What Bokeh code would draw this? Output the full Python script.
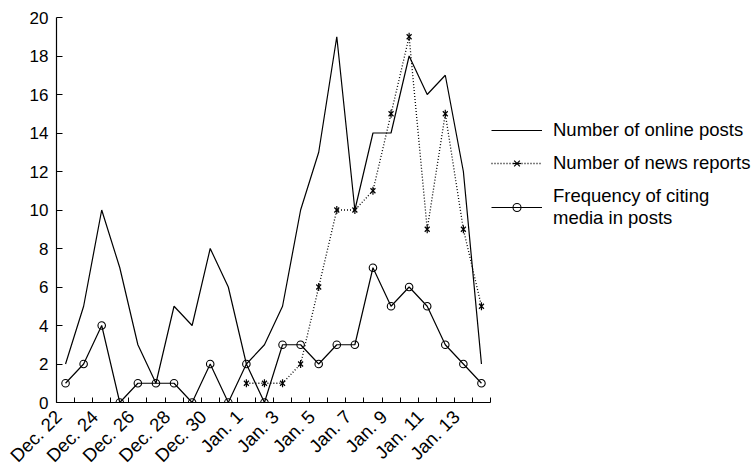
import math
from bokeh.plotting import figure
from bokeh.models import FixedTicker, Legend, LegendItem, LinearAxis
from bokeh.embed import file_html
from bokeh.resources import INLINE

dates = ["Dec. 22", "Dec. 23", "Dec. 24", "Dec. 25", "Dec. 26", "Dec. 27", "Dec. 28", "Dec. 29",
         "Dec. 30", "Dec. 31", "Jan. 1", "Jan. 2", "Jan. 3", "Jan. 4", "Jan. 5", "Jan. 6",
         "Jan. 7", "Jan. 8", "Jan. 9", "Jan. 10", "Jan. 11", "Jan. 12", "Jan. 13", "Jan. 14"]
online_posts = [2, 5, 10, 7, 3, 1, 5, 4, 8, 6, 2, 3, 5, 10, 13, 19, 10, 14, 14, 18, 16, 17, 12, 2]
nan = float("nan")
news_reports = [nan, nan, nan, nan, nan, nan, nan, nan, nan, nan,
                1, 1, 1, 2, 6, 10, 10, 11, 15, 19, 9, 15, 9, 5]
citing_media = [1, 2, 4, 0, 1, 1, 1, 0, 2, 0, 2, 0, 3, 3, 2, 3, 3, 7, 5, 6, 5, 3, 2, 1]
y_ticks = [0, 2, 4, 6, 8, 10, 12, 14, 16, 18, 20]
series_names = ["Number of online posts", "Number of news reports",
                "Frequency of citing\nmedia in posts"]

x = list(range(len(dates)))
FONT = "Liberation Sans"
LABEL_SHIFT = -0.39  # horizontal offset of rotated date labels (category units)

p = figure(frame_width=434, frame_height=385, output_backend="svg", toolbar_location=None,
           x_range=(-0.5, len(dates) - 0.5), y_range=(0, 20),
           min_border_left=56, min_border_top=17, min_border_bottom=0, min_border_right=0)
p.outline_line_color = None
p.xgrid.visible = False
p.ygrid.visible = False
p.background_fill_color = "white"

# x axis line with ticks at category boundaries
xa = p.xaxis[0]
xa.ticker = FixedTicker(ticks=[], minor_ticks=[i - 0.5 for i in range(len(dates) + 1)])
xa.major_tick_in = 0
xa.major_tick_out = 0
xa.minor_tick_in = 5
xa.minor_tick_out = 0
xa.axis_line_color = "black"
xa.axis_line_width = 1.2
xa.minor_tick_line_color = "black"

# date labels, every other day
label_ticks = [round(i + LABEL_SHIFT, 2) for i in x[::2]]
la = LinearAxis(ticker=FixedTicker(ticks=label_ticks),
                major_label_overrides={t: dates[i] for t, i in zip(label_ticks, x[::2])},
                major_label_orientation=math.pi / 4,
                major_label_standoff=11,
                major_tick_in=0, major_tick_out=0, minor_tick_in=0, minor_tick_out=0,
                axis_line_color=None, major_tick_line_color=None, minor_tick_line_color=None,
                major_label_text_font=FONT, major_label_text_font_size="18.5px",
                major_label_text_color="black")
p.add_layout(la, "below")

# y axis
ya = p.yaxis[0]
ya.ticker = FixedTicker(ticks=y_ticks)
ya.major_tick_in = 6
ya.major_tick_out = 0
ya.minor_tick_in = 0
ya.minor_tick_out = 0
ya.major_label_standoff = 8
ya.axis_line_color = "black"
ya.axis_line_width = 1.2
ya.major_tick_line_color = "black"
ya.major_label_text_font = FONT
ya.major_label_text_color = "black"
ya.major_label_text_font_size = "17px"

r_online = p.line(x, online_posts, line_color="black", line_width=1.2)
r_news_line = p.line(x, news_reports, line_color="black", line_width=1.3, line_dash="1 2")
r_news_x = p.scatter(x, news_reports, marker="x", size=7, line_color="black", line_width=1.2)
r_news_v = p.scatter(x, news_reports, marker="dash", size=8, angle=math.pi / 2,
                     line_color="black", line_width=1.2)
r_cite_line = p.line(x, citing_media, line_color="black", line_width=1.2)
r_cite_pts = p.scatter(x, citing_media, marker="circle", size=7.5, line_color="black",
                       fill_alpha=0, line_width=1.1)

legend = Legend(items=[
    LegendItem(label=series_names[0], renderers=[r_online]),
    LegendItem(label=series_names[1], renderers=[r_news_line, r_news_x, r_news_v]),
    LegendItem(label=series_names[2], renderers=[r_cite_line, r_cite_pts]),
], location=(1, 173), orientation="vertical")
legend.border_line_color = None
legend.background_fill_alpha = 0
legend.padding = 0
legend.margin = 0
legend.spacing = 11
legend.glyph_width = 51
legend.glyph_height = 20
legend.label_height = 20
legend.label_standoff = 11
legend.label_text_font = FONT
legend.label_text_font_size = "18.5px"
legend.label_text_line_height = 1.33
legend.label_text_color = "black"
p.add_layout(legend, "right")

open("out.html", "w").write(file_html(p, INLINE))
